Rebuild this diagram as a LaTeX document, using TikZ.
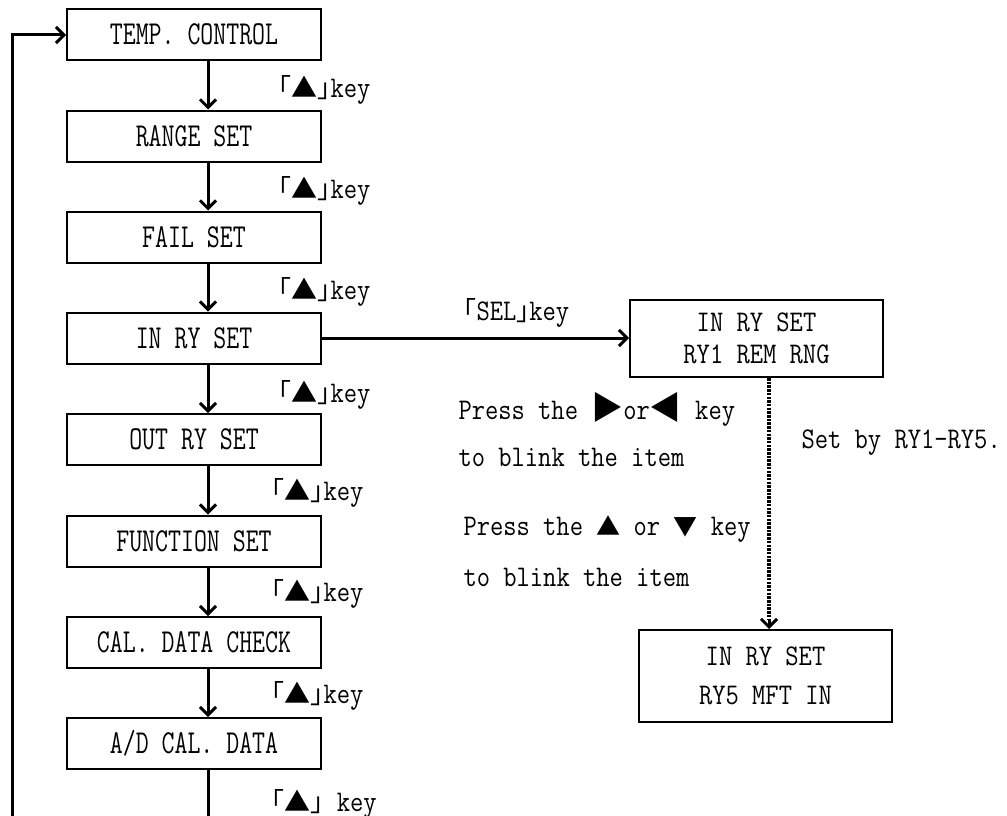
\documentclass[tikz,border=0pt]{standalone}
\usepackage{fontspec}
\usetikzlibrary{arrows.meta,calc,positioning}
\newfontfamily\boxfont[FakeStretch=0.75]{Latin Modern Mono}
\newfontfamily\notefont[FakeStretch=0.86]{Latin Modern Mono}
\newfontfamily\cjk{Noto Sans CJK JP}
\newcommand{\upkey}{{\cjk\fontsize{26}{26}\selectfont ｢▲｣}key}
\tikzset{
  menubox/.style={draw,line width=2pt,minimum width=254pt,minimum height=51pt,
    inner sep=0pt,text height=20pt,text depth=0pt,
    font=\boxfont\fontsize{33.5}{33.5}\selectfont},
  relaybox/.style={draw,line width=2pt,minimum width=253pt,inner sep=0pt,align=center},
  keylabel/.style={anchor=base west,inner sep=0pt,font=\notefont\fontsize{30}{30}\selectfont},
  note/.style={anchor=base west,inner sep=0pt,font=\notefont\fontsize{30}{30}\selectfont},
  dotline/.style={line width=4.5pt,dash pattern=on 2.5pt off 1.2pt}
}
\begin{document}
\begin{tikzpicture}[x=1pt,y=-1pt,>={Straight Barb[length=8pt,width=16pt]},line width=3pt]
      \useasboundingbox (0,0) rectangle (1007,816);
      \clip (0,0) rectangle (1007,816);
      \node[menubox] (temp) at (194,35){TEMP. CONTROL};
      \node[menubox] (range) at (194,136){RANGE SET};
      \node[menubox] (fail) at (194,237){FAIL SET};
      \node[menubox] (inry) at (194,338){IN RY SET};
      \node[menubox] (outry) at (194,439.5){OUT RY SET};
      \node[menubox] (func) at (194,541){FUNCTION SET};
      \node[menubox] (cal) at (194,642.5){CAL. DATA CHECK};
      \node[menubox] (adcal) at (194,743.5){A/D CAL. DATA};
      \coordinate (ax) at (208,0);
      \coordinate (lowL) at (12,830);
      \draw[->] (temp.south -| ax)--(range.north -| ax);
      \draw[->] (range.south -| ax)--(fail.north -| ax);
      \draw[->] (fail.south -| ax)--(inry.north -| ax);
      \draw[->] (inry.south -| ax)--(outry.north -| ax);
      \draw[->] (outry.south -| ax)--(func.north -| ax);
      \draw[->] (func.south -| ax)--(cal.north -| ax);
      \draw[->] (cal.south -| ax)--(adcal.north -| ax);
      \draw[->] (adcal.south -| ax) |- (lowL) |- (temp.west);
      \node[keylabel] (k1) at (277,98){\upkey};
      \node[keylabel] (k2) at (277,198){\upkey};
      \node[keylabel] (k3) at (277,299){\upkey};
      \node[keylabel] (k4) at (277,402){\upkey};
      \node[keylabel] (k5) at (270,500){\upkey};
      \node[keylabel] (k6) at (270,601){\upkey};
      \node[keylabel] (k7) at (270,703){\upkey};
      \node[keylabel] (k8) at (270,811){{\cjk\fontsize{26}{26}\selectfont ｢▲｣} key};
      \node[relaybox,minimum height=77pt,font=\notefont\fontsize{30}{31.7}\selectfont]
        (relay1) at (756.5,338.5){IN RY SET\\RY1 REM RNG};
      \node[relaybox,minimum height=92pt,font=\notefont\fontsize{30}{39}\selectfont]
        (relay5) at (765.5,676){IN RY SET\\RY5 MFT IN};
      \draw[->] (inry.east)--(inry.east -| relay1.west);
      \node[keylabel] (selkey) at (462,320){{\cjk\fontsize{26}{26}\selectfont ｢}SEL{\cjk\fontsize{26}{26}\selectfont ｣}key};
      \coordinate (dx) at (769,0);
      \coordinate (dtip) at (769,620);
      \draw[dotline] (relay1.south -| dx)--(dtip);
      \draw[->] (dtip)--(relay5.north -| dx);
      \node[note] (hint1) at (457,419){Press the {\cjk\fontsize{32}{32}\selectfont ▶}or{\cjk\fontsize{32}{32}\selectfont ◀} key};
      \node[note] (hint2) at (457,466){to blink the item};
      \node[note] (hint3) at (462,535){Press the {\cjk\fontsize{24}{24}\selectfont ▲} or {\cjk\fontsize{24}{24}\selectfont ▼} key};
      \node[note] (hint4) at (462,586){to blink the item};
      \node[note] (setby) at (800,448){Set by RY1-RY5.};
    \end{tikzpicture}
\end{document}
